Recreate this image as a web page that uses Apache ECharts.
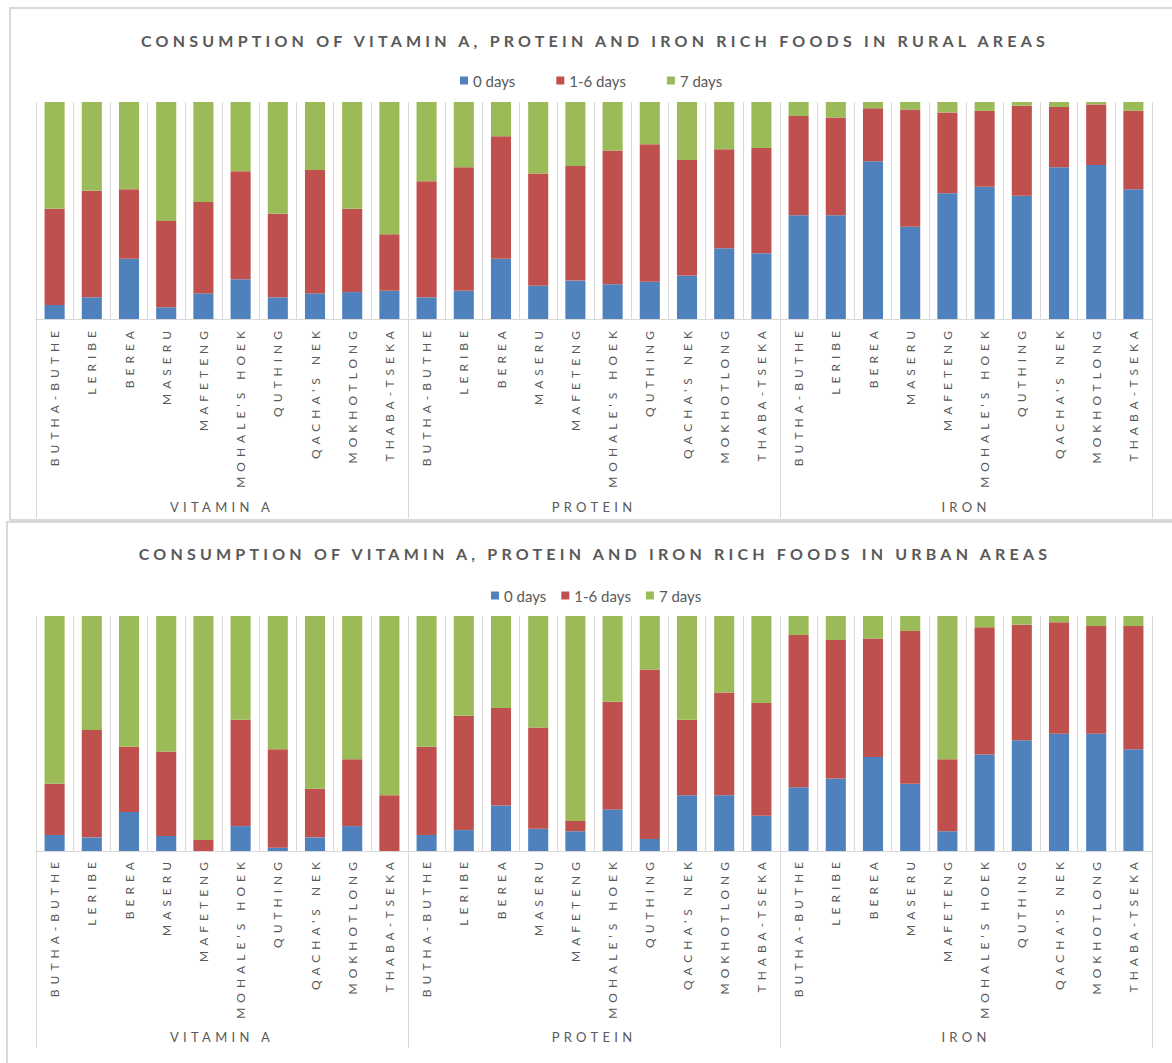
<!DOCTYPE html>
<html>
<head>
<meta charset="utf-8">
<script src="https://cdn.jsdelivr.net/npm/echarts@6/dist/echarts.min.js"></script>
<style>
  html, body { margin: 0; padding: 0; background: #fff; overflow: hidden; }
  #chart { width: 1172px; height: 1063px; }
</style>
</head>
<body>
<div id="chart"></div>
<script>
// Districts of Lesotho, repeated once per food group on the category axis
const districts = ['BUTHA-BUTHE', 'LERIBE', 'BEREA', 'MASERU', 'MAFETENG',
  "MOHALE'S HOEK", 'QUTHING', "QACHA'S NEK", 'MOKHOTLONG', 'THABA-TSEKA'];
const nutrients = ['VITAMIN A', 'PROTEIN', 'IRON'];
const seriesNames = ['0 days', '1-6 days', '7 days'];
const titleRural = 'CONSUMPTION OF VITAMIN A, PROTEIN AND IRON RICH FOODS IN RURAL AREAS';
const titleUrban = 'CONSUMPTION OF VITAMIN A, PROTEIN AND IRON RICH FOODS IN URBAN AREAS';

// Share of households (%) by days of consumption — rural
// order: Vitamin A (10 districts), Protein (10), Iron (10)
const rural0 = [6.5, 10.0, 27.8, 5.4, 11.8, 18.3, 10.0, 11.8, 12.4, 13.0,
  10.0, 13.0, 27.8, 15.3, 17.7, 16.0, 17.2, 20.1, 32.6, 30.3,
  47.8, 47.8, 72.7, 42.5, 57.9, 61.0, 56.8, 69.9, 71.0, 59.8];
const rural16 = [44.3, 49.1, 32.0, 39.8, 42.1, 49.8, 38.5, 56.9, 38.4, 26.0,
  53.5, 56.9, 56.4, 51.7, 52.8, 61.6, 63.3, 53.2, 45.6, 48.5,
  45.7, 45.1, 24.4, 54.0, 37.3, 34.9, 41.5, 27.8, 27.9, 36.1];
const rural7 = [49.2, 40.9, 40.2, 54.8, 46.1, 31.9, 51.5, 31.3, 49.2, 61.0,
  36.5, 30.1, 15.8, 33.0, 29.5, 22.4, 19.5, 26.7, 21.8, 21.2,
  6.5, 7.1, 2.9, 3.5, 4.8, 4.1, 1.7, 2.3, 1.1, 4.1];

// Share of households (%) by days of consumption — urban
const urban0 = [6.8, 5.8, 16.6, 6.4, 0, 10.6, 1.4, 5.8, 10.6, 0,
  6.8, 8.9, 19.4, 9.5, 8.4, 17.7, 5.1, 23.7, 23.7, 15.0,
  27.1, 30.8, 40.0, 28.6, 8.4, 41.1, 47.1, 49.9, 49.9, 43.3];
const urban16 = [21.8, 45.7, 27.8, 35.9, 4.7, 45.3, 41.9, 20.7, 28.4, 23.7,
  37.6, 48.7, 41.5, 43.1, 4.4, 45.8, 72.1, 32.2, 43.7, 48.0,
  64.8, 59.0, 50.4, 65.0, 30.6, 54.1, 49.2, 47.4, 45.8, 52.4];
const urban7 = [71.4, 48.5, 55.6, 57.7, 95.3, 44.1, 56.7, 73.5, 61.0, 76.3,
  55.6, 42.4, 39.1, 47.4, 87.2, 36.5, 22.8, 44.1, 32.6, 37.0,
  8.1, 10.2, 9.6, 6.4, 61.0, 4.8, 3.7, 2.7, 4.3, 4.3];

const axisLabels = nutrients.flatMap(() => districts);
const colors = ['#4F81BD', '#C0504D', '#9BBB59'];
const FONT = 'Lato, "Open Sans", sans-serif';
const GRID_LINE = '#d9d9d9';
const TEXT = '#595959';

const panels = [
  { top: 102, height: 217, tickLen: 199, groupMargin: 181, labelMargin: 7,
    title: titleRural, titleTop: 32, legendLeft: 460, legendTop: 73, legendGap: 41,
    values: [rural0, rural16, rural7] },
  { top: 616, height: 235, tickLen: 197, groupMargin: 179, labelMargin: 6,
    title: titleUrban, titleTop: 545, legendLeft: 491, legendTop: 588, legendGap: 15,
    values: [urban0, urban16, urban7] }
];

const option = {
  animation: false,
  color: colors,
  textStyle: { fontFamily: FONT },
  title: panels.map(p => ({
    text: p.title, left: 595, top: p.titleTop, padding: 0,
    textAlign: 'center', textVerticalAlign: 'top',
    textStyle: { fontFamily: FONT, fontSize: 16, fontWeight: 'bold', color: TEXT }
  })),
  legend: panels.map(p => ({
    data: seriesNames, left: p.legendLeft, top: p.legendTop, padding: 0,
    icon: 'rect', itemWidth: 8, itemHeight: 8, itemGap: p.legendGap,
    textStyle: { fontFamily: FONT, fontSize: 15, color: TEXT }
  })),
  grid: panels.map(p => ({
    left: 36, width: 1116, top: p.top, height: p.height,
    containLabel: false, outerBoundsMode: 'none'
  })),
  graphic: [
    { type: 'rect', z: -10, shape: { x: 10, y: 8, width: 1200, height: 512 },
      style: { fill: 'none', stroke: GRID_LINE, lineWidth: 2 } },
    { type: 'rect', z: -10, shape: { x: 7, y: 522, width: 1200, height: 600 },
      style: { fill: 'none', stroke: GRID_LINE, lineWidth: 2 } }
  ],
  xAxis: panels.flatMap((p, i) => [
    {
      type: 'category', gridIndex: i, data: axisLabels, position: 'bottom',
      axisLine: { show: true, lineStyle: { color: GRID_LINE, width: 1 } },
      axisTick: { show: false },
      splitLine: { show: true, interval: 0, lineStyle: { color: GRID_LINE, width: 1 } },
      axisLabel: { interval: 0, rotate: 90, margin: p.labelMargin,
        fontFamily: FONT, fontSize: 12, color: TEXT }
    },
    {
      type: 'category', gridIndex: i, data: nutrients, position: 'bottom',
      axisLine: { show: false },
      axisTick: { show: true, interval: 0, length: p.tickLen,
        lineStyle: { color: GRID_LINE, width: 1 } },
      splitLine: { show: false },
      axisLabel: { interval: 0, margin: p.groupMargin,
        fontFamily: FONT, fontSize: 13, color: TEXT }
    }
  ]),
  yAxis: panels.map((p, i) => ({
    type: 'value', gridIndex: i, min: 0, max: 100, show: false,
    splitLine: { show: false }
  })),
  series: panels.flatMap((p, i) => seriesNames.map((name, k) => ({
    type: 'bar', name, stack: 'panel' + i,
    xAxisIndex: i * 2, yAxisIndex: i,
    barCategoryGap: '46%',
    itemStyle: { color: colors[k] },
    data: p.values[k]
  })))
};

const chart = echarts.init(document.getElementById('chart'), null,
  { renderer: 'svg', width: 1172, height: 1063 });
chart.setOption(option);

// Spaced-out lettering for titles and axis labels
function spaceText() {
  document.querySelectorAll('#chart svg text').forEach(t => {
    const s = t.textContent.trim();
    let ls = null;
    if (s === titleRural || s === titleUrban) ls = 4.2;
    else if (nutrients.includes(s)) ls = 4.3;
    else if (districts.includes(s)) ls = 5.0;
    if (ls !== null) t.setAttribute('letter-spacing', ls);
  });
}
chart.on('finished', spaceText);
spaceText();
</script>
</body>
</html>
